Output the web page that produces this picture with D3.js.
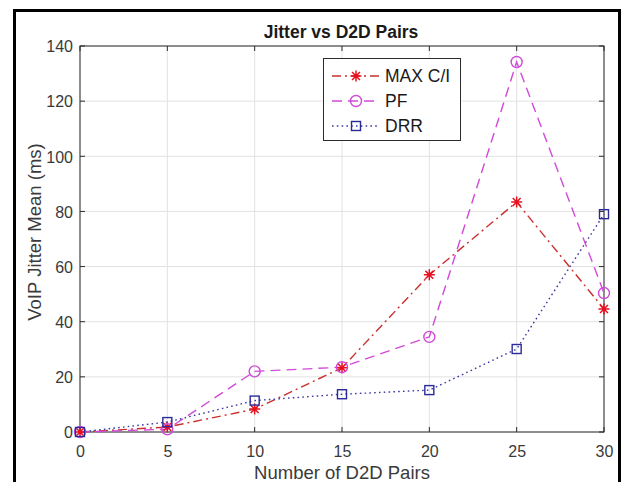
<!DOCTYPE html>
<html>
<head>
<meta charset="utf-8">
<script src="https://cdn.jsdelivr.net/npm/d3@7"></script>
<style>
  html, body { margin: 0; padding: 0; background: #fff; }
  svg { display: block; font-family: "Liberation Sans", Arial, sans-serif; }
</style>
</head>
<body>
<svg id="chart" width="622" height="482"></svg>
<script>
const pairs = [0, 5, 10, 15, 20, 25, 30];
const maxCI = [0, 1.8, 8.3, 23.3, 57, 83.4, 44.6];
const pf    = [0, 1.0, 22.0, 23.5, 34.5, 134.2, 50.4];
const drr   = [0, 3.6, 11.4, 13.7, 15.2, 30.1, 79];
const xTicks = [0, 5, 10, 15, 20, 25, 30];
const yTicks = [0, 20, 40, 60, 80, 100, 120, 140];
const seriesNames = ["MAX C/I", "PF", "DRR"];

const series = [
  { name: seriesNames[0], values: maxCI, line: "#c8302e", marker: "#e8101e", dash: "9,4,2,4", shape: "star" },
  { name: seriesNames[1], values: pf,    line: "#d24ad8", marker: "#d04ad8", dash: "10,6",    shape: "circle" },
  { name: seriesNames[2], values: drr,   line: "#3a3aa0", marker: "#2a2a9a", dash: "1.6,3.2", shape: "square" }
];

const svg = d3.select("#chart");
const L = 80, R = 604, T = 46, B = 432;
const x = d3.scaleLinear().domain([0, 30]).range([L, R]);
const y = d3.scaleLinear().domain([0, 140]).range([B, T]);
const axisColor = "#2b2b2b";
const textColor = "#3a3a3a";

// outer frame
svg.append("rect").attr("x", 14.5).attr("y", 10.5).attr("width", 605).attr("height", 490)
  .attr("fill", "none").attr("stroke", "#000").attr("stroke-width", 3);

// grid
const g = svg.append("g");
g.selectAll(".gx").data(xTicks).enter().append("line")
  .attr("x1", d => x(d)).attr("x2", d => x(d)).attr("y1", T).attr("y2", B)
  .attr("stroke", "#e2e2e2").attr("stroke-width", 1);
g.selectAll(".gy").data(yTicks).enter().append("line")
  .attr("x1", L).attr("x2", R).attr("y1", d => y(d)).attr("y2", d => y(d))
  .attr("stroke", "#e2e2e2").attr("stroke-width", 1);

// axes via d3 axis
const xAxis = d3.axisBottom(x).tickValues(xTicks).tickSize(0).tickPadding(14).tickFormat(d3.format("d"));
const yAxis = d3.axisLeft(y).tickValues(yTicks).tickSize(0).tickPadding(7).tickFormat(d3.format("d"));
const xa = svg.append("g").attr("transform", `translate(0,${B})`).call(xAxis);
const ya = svg.append("g").attr("transform", `translate(${L},0)`).call(yAxis);
[xa, ya].forEach(a => {
  a.select(".domain").remove();
  a.selectAll("text").attr("font-size", 16).attr("fill", textColor)
    .attr("font-family", "Liberation Sans, Arial, sans-serif");
});
ya.selectAll("text").attr("dy", "0.36em");

// inner tick marks (all four sides)
const tk = 5;
xTicks.forEach(d => {
  svg.append("line").attr("x1", x(d)).attr("x2", x(d)).attr("y1", B).attr("y2", B - tk).attr("stroke", axisColor);
  svg.append("line").attr("x1", x(d)).attr("x2", x(d)).attr("y1", T).attr("y2", T + tk).attr("stroke", axisColor);
});
yTicks.forEach(d => {
  svg.append("line").attr("x1", L).attr("x2", L + tk).attr("y1", y(d)).attr("y2", y(d)).attr("stroke", axisColor);
  svg.append("line").attr("x1", R).attr("x2", R - tk).attr("y1", y(d)).attr("y2", y(d)).attr("stroke", axisColor);
});
// box
svg.append("rect").attr("x", L).attr("y", T).attr("width", R - L).attr("height", B - T)
  .attr("fill", "none").attr("stroke", axisColor).attr("stroke-width", 1);

// markers
function drawMarker(sel, shape, color, cx, cy) {
  if (shape === "circle") {
    sel.append("circle").attr("cx", cx).attr("cy", cy).attr("r", 5.5)
      .attr("fill", "none").attr("stroke", color).attr("stroke-width", 1.4);
  } else if (shape === "square") {
    sel.append("rect").attr("x", cx - 4.5).attr("y", cy - 4.5).attr("width", 9).attr("height", 9)
      .attr("fill", "none").attr("stroke", color).attr("stroke-width", 1.4);
  } else {
    const r = 5.5, q = r * 0.72;
    const p = `M${cx - r},${cy}L${cx + r},${cy}M${cx},${cy - r}L${cx},${cy + r}` +
              `M${cx - q},${cy - q}L${cx + q},${cy + q}M${cx - q},${cy + q}L${cx + q},${cy - q}`;
    sel.append("path").attr("d", p).attr("stroke", color).attr("stroke-width", 1.5).attr("fill", "none");
  }
}

const line = d3.line().x(d => x(d[0])).y(d => y(d[1]));
series.forEach(s => {
  const pts = pairs.map((p, i) => [p, s.values[i]]);
  svg.append("path").datum(pts).attr("d", line)
    .attr("fill", "none").attr("stroke", s.line).attr("stroke-width", 1.4)
    .attr("stroke-dasharray", s.dash);
});
series.forEach(s => {
  const mg = svg.append("g");
  pairs.forEach((p, i) => drawMarker(mg, s.shape, s.marker, x(p), y(s.values[i])));
});

// legend
const lg = svg.append("g");
lg.append("rect").attr("x", 323.5).attr("y", 58.5).attr("width", 137).attr("height", 82)
  .attr("fill", "#fff").attr("stroke", axisColor).attr("stroke-width", 1);
const ly = [76, 101, 126];
series.forEach((s, i) => {
  lg.append("line").attr("x1", 332).attr("x2", 380).attr("y1", ly[i]).attr("y2", ly[i])
    .attr("stroke", s.line).attr("stroke-width", 1.4).attr("stroke-dasharray", s.dash);
  drawMarker(lg, s.shape, s.marker, 356, ly[i]);
  lg.append("text").attr("x", 385).attr("y", ly[i] + 6.3).attr("font-size", 17.5)
    .attr("fill", "#1a1a1a").text(s.name);
});

// title & labels
svg.append("text").attr("x", 341).attr("y", 38).attr("text-anchor", "middle")
  .attr("font-size", 17.5).attr("font-weight", "bold").attr("fill", "#1a1a1a").text("Jitter vs D2D Pairs");
svg.append("text").attr("x", 342).attr("y", 479).attr("text-anchor", "middle")
  .attr("font-size", 18.5).attr("fill", textColor).text("Number of D2D Pairs");
svg.append("text").attr("transform", "translate(41,232) rotate(-90)").attr("text-anchor", "middle")
  .attr("font-size", 18.5).attr("fill", textColor).text("VoIP Jitter Mean (ms)");
</script>
</body>
</html>
